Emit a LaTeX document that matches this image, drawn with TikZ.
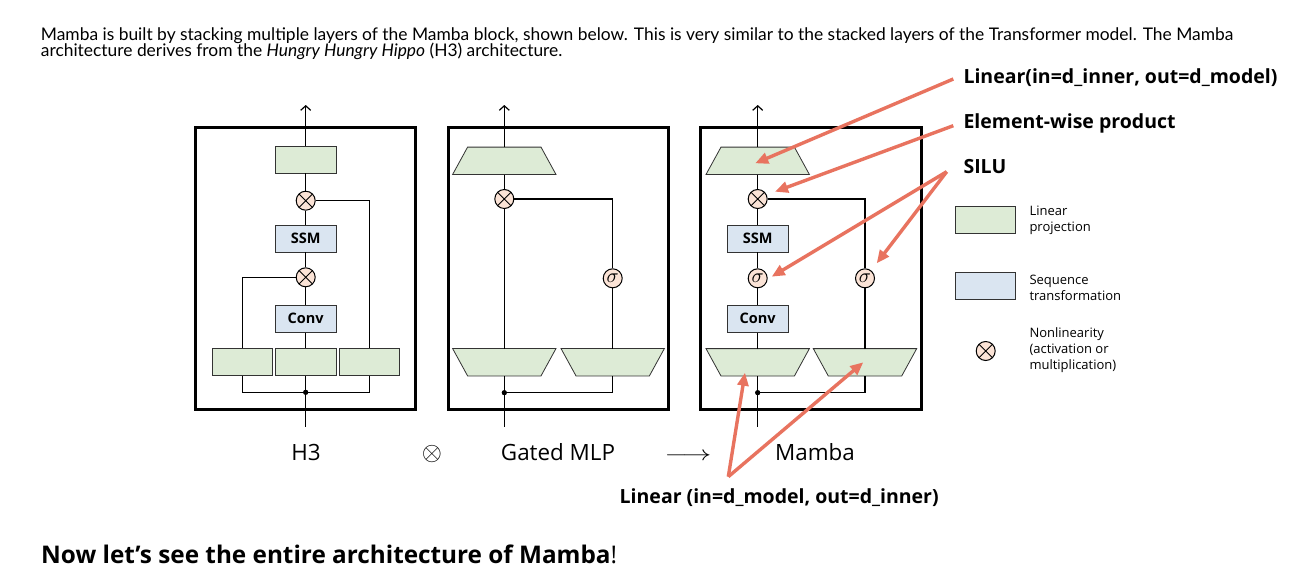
\documentclass[tikz,border=0pt]{standalone}
\usepackage{fontspec}
\setmainfont{Open Sans}
\newfontfamily\parafont{Lato}
\usetikzlibrary{arrows.meta}

\definecolor{lingreen}{HTML}{DDEBD6}
\definecolor{seqblue}{HTML}{DAE5F1}
\definecolor{nonlin}{HTML}{FBE3D6}
\definecolor{salmon}{HTML}{E8735F}
\definecolor{edge}{HTML}{333333}

\tikzset{
  blk/.style={draw=black, line width=2.8pt, minimum width=220pt, minimum height=282pt, inner sep=0pt},
  lin/.style={draw=edge, fill=lingreen, line width=0.8pt, minimum width=60.5pt, minimum height=27pt, inner sep=0pt},
  seq/.style={draw=edge, fill=seqblue, line width=0.8pt, minimum width=60.5pt, minimum height=27pt, inner sep=0pt,
    font=\fontsize{14.5}{15}\selectfont\bfseries},
  trapbox/.style={minimum width=103pt, minimum height=27pt, inner sep=0pt},
  trapshape/.style={draw=edge, fill=lingreen, line width=0.8pt},
  opx/.style={circle, draw=black, fill=nonlin, line width=1pt, minimum size=19pt, inner sep=0pt,
    path picture={\draw[line width=0.9pt] (path picture bounding box.north west) -- (path picture bounding box.south east)
      (path picture bounding box.north east) -- (path picture bounding box.south west);}},
  sig/.style={circle, draw=black, fill=nonlin, line width=1pt, minimum size=19pt, inner sep=0pt},
  dotn/.style={circle, fill=black, minimum size=5pt, inner sep=0pt},
  conn/.style={line width=1.2pt, black},
  uparr/.style={conn, -{Straight Barb[length=4.5pt,width=10pt,line width=1.2pt]}},
  redarr/.style={salmon, line width=3.4pt, -{Triangle[length=13pt,width=11pt]}},
  redlab/.style={anchor=base west, inner sep=0pt, font=\fontsize{19.5}{22}\selectfont\bfseries},
  blklab/.style={anchor=base, inner sep=0pt, font=\fontsize{22.4}{26}\selectfont},
  leglab/.style={anchor=west, inner sep=0pt, align=left, font=\fontsize{13}{16}\selectfont},
  para/.style={anchor=base west, inner sep=0pt, font=\parafont\fontsize{17.4}{20}\selectfont}
}
\newcommand\sigglyph{\scalebox{2.0}{$\sigma$}}
% trapezoid outlines drawn on a named (invisible) box node
\newcommand\trapWideBottom[1]{\filldraw[trapshape] ([xshift=15pt]#1.north west) -- ([xshift=-15pt]#1.north east) -- (#1.south east) -- (#1.south west) -- cycle;}
\newcommand\trapWideTop[1]{\filldraw[trapshape] (#1.north west) -- (#1.north east) -- ([xshift=-15pt]#1.south east) -- ([xshift=15pt]#1.south west) -- cycle;}

\begin{document}
\begin{tikzpicture}[x=1pt,y=-1pt]
\useasboundingbox (0,0) rectangle (1291,578);
\fill[white] (0,0) rectangle (1291,578);

% top paragraph
\node[para] (p1) at (40.7,40.3) {Mamba is built by stacking multiple layers of the Mamba block, shown below. This is very similar to the stacked layers of the Transformer model. The Mamba};
\node[para] (p2) at (40.7,56.7) {architecture derives from the \textit{Hungry Hungry Hippo} (H3) architecture.};

% ---------------- H3 ----------------
\node[blk] (h3box) at (305.5,268.8) {};
\node[lin] (h3out) at (305.7,159.5) {};
\node[opx] (h3m1) at (305.7,200.7) {};
\node[seq] (h3ssm) at (305.7,238.5) {SSM};
\node[opx] (h3m2) at (305.7,277.3) {};
\node[seq] (h3conv) at (305.7,318.7) {Conv};
\node[lin, minimum width=60pt] (h3l) at (242.2,362) {};
\node[lin] (h3c) at (305.7,362) {};
\node[lin] (h3r) at (369.2,362) {};
\node[dotn] (h3dot) at (305.7,392.3) {};
\coordinate (h3top) at (305.7,105);
\coordinate (h3in) at (305.7,427);
\draw[uparr] (h3out) -- (h3top);
\draw[conn] (h3out) -- (h3m1);
\draw[conn] (h3m1) -- (h3ssm);
\draw[conn] (h3ssm) -- (h3m2);
\draw[conn] (h3m2) -- (h3conv);
\draw[conn] (h3conv) -- (h3c);
\draw[conn] (h3m1) -| (h3r);
\draw[conn] (h3m2) -| (h3l);
\draw[conn] (h3c) -- (h3in);
\draw[conn] (h3l) |- (h3dot.center) -| (h3r);
\node[dotn] at (h3dot) {};

% ---------------- Gated MLP ----------------
\node[blk] (gbox) at (558.3,268.4) {};
\node[trapbox] (gout) at (504.3,160.8) {};
\trapWideBottom{gout}
\node[opx] (gm) at (504.3,199) {};
\node[sig] (gs) at (612.7,278.3) {\sigglyph};
\node[trapbox] (gl) at (504.3,362.2) {};
\trapWideTop{gl}
\node[trapbox] (gr) at (612.7,362.2) {};
\trapWideTop{gr}
\node[dotn] (gdot) at (504.3,392.7) {};
\coordinate (gtop) at (504.3,105);
\coordinate (gin) at (504.3,427);
\draw[uparr] (gout) -- (gtop);
\draw[conn] (gout) -- (gm);
\draw[conn] (gm) -- (gl);
\draw[conn] (gm) -| (gs);
\draw[conn] (gs) -- (gr);
\draw[conn] (gl) -- (gin);
\draw[conn] (gr) |- (gdot.center);
\node[dotn] at (gdot) {};

% ---------------- Mamba ----------------
\node[blk, minimum width=221pt] (mbox) at (811.2,268.3) {};
\node[trapbox] (mout) at (757.7,160.8) {};
\trapWideBottom{mout}
\node[opx] (mm) at (757.7,199) {};
\node[seq] (mssm) at (757.7,238.4) {SSM};
\node[sig] (ms1) at (757.7,278.3) {\sigglyph};
\node[seq] (mconv) at (757.7,318.7) {Conv};
\node[trapbox] (ml) at (757.7,362.3) {};
\trapWideTop{ml}
\node[trapbox] (mr) at (865,362.3) {};
\trapWideTop{mr}
\node[sig] (ms2) at (865,278.3) {\sigglyph};
\node[dotn] (mdot) at (757.7,392.7) {};
\coordinate (mtop) at (757.7,105);
\coordinate (min) at (757.7,427);
\draw[uparr] (mout) -- (mtop);
\draw[conn] (mout) -- (mm);
\draw[conn] (mm) -- (mssm);
\draw[conn] (mssm) -- (ms1);
\draw[conn] (ms1) -- (mconv);
\draw[conn] (mconv) -- (ml);
\draw[conn] (mm) -| (ms2);
\draw[conn] (ms2) -- (mr);
\draw[conn] (ml) -- (min);
\draw[conn] (mr) |- (mdot.center);
\node[dotn] at (mdot) {};

% ---------------- labels under blocks ----------------
\node[blklab] (lh3) at (306,460.5) {H3};
\node[blklab] (lox) at (432,460.5) {\scalebox{1.25}{$\otimes$}};
\node[blklab] (lg) at (558,460.5) {Gated MLP};
\node[blklab] (lar) at (688,460.5) {\scalebox{1.4}[1]{$\longrightarrow$}};
\node[blklab] (lm) at (815,460.5) {Mamba};

% ---------------- legend ----------------
\node[lin] (leg1) at (985.5,220.3) {};
\node[leglab] (leg1t) at (1029.3,220.3) {Linear\\projection};
\node[seq] (leg2) at (985.5,285.8) {};
\node[leglab] (leg2t) at (1029.3,287.7) {Sequence\\transformation};
\node[opx] (leg3) at (985.7,351) {};
\node[leglab] (leg3t) at (1029.3,350) {Nonlinearity\\(activation or\\multiplication)};

% ---------------- red annotations ----------------
\node[redlab] (r1) at (963.3,83.2) {Linear(in=d\_inner, out=d\_model)};
\node[redlab] (r2) at (963.3,128.2) {Element-wise product};
\node[redlab] (r3) at (963.3,173.8) {SILU};
\node[redlab] (r4) at (619.5,503.5) {Linear (in=d\_model, out=d\_inner)};

\coordinate (t1) at (953.3,79);
\coordinate (t2) at (953.3,125.7);
\coordinate (t3) at (946.7,171.7);
\coordinate (t4) at (728.3,476.7);
\coordinate (e1) at ([shift={(-2.5,2.5)}]mout.center);
\coordinate (e2) at ([shift={(17.3,-7.3)}]mm.center);
\coordinate (e3) at ([shift={(14,-1.6)}]ms1.center);
\coordinate (e4) at ([shift={(11.7,-15)}]ms2.center);
\coordinate (e5) at ([shift={(-12.7,10.4)}]ml.center);
\coordinate (e6) at ([shift={(-1.7,0)}]mr.center);
\draw[redarr] (t1) -- (e1);
\draw[redarr] (t2) -- (e2);
\draw[redarr] (t3) -- (e3);
\draw[redarr] (t3) -- (e4);
\draw[redarr] (t4) -- (e5);
\draw[redarr] (t4) -- (e6);

% ---------------- bottom heading ----------------
\node[anchor=base west, inner sep=0pt, font=\fontsize{24.3}{28}\selectfont] (hd) at (41,563.3) {\textbf{Now let’s see the entire architecture of Mamba}!};
\end{tikzpicture}
\end{document}
